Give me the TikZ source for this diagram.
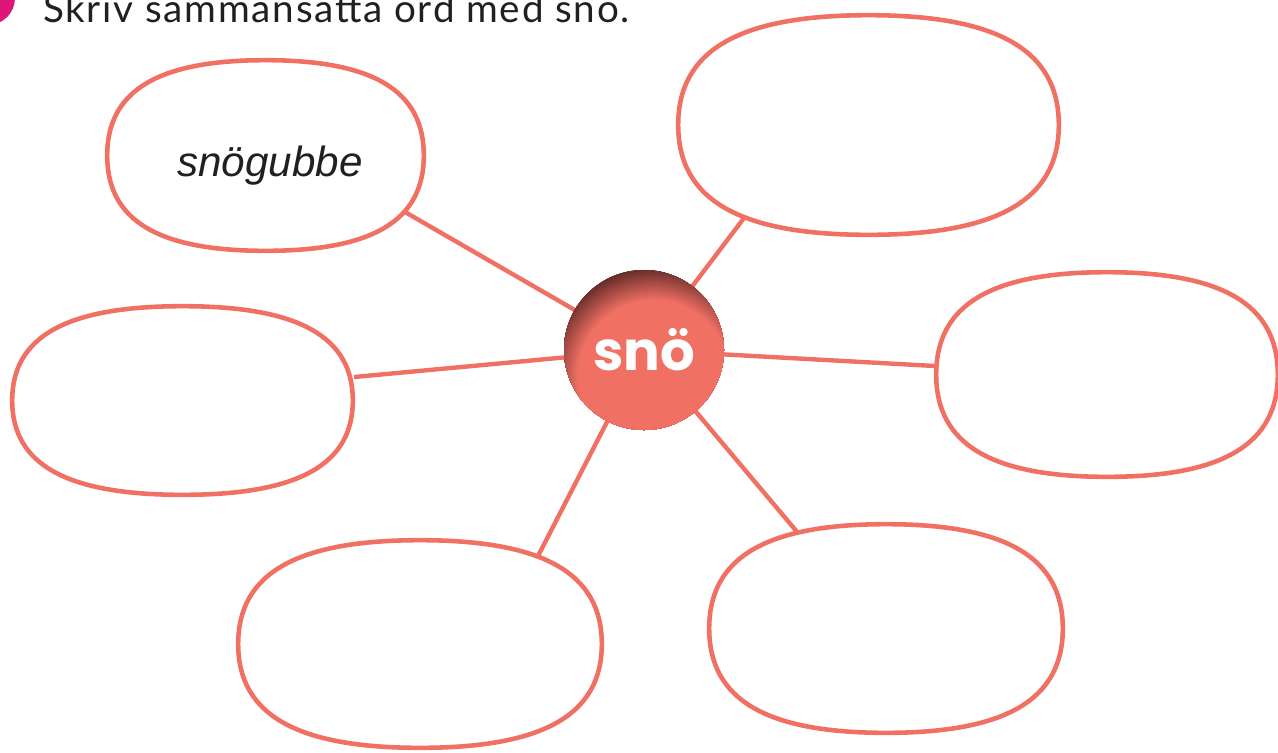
\documentclass[tikz,border=0pt]{standalone}
\usepackage{fontspec}
\setmainfont{Lato}
\newfontfamily\snofont{Poppins}
\newfontfamily\handfont{Liberation Sans}
\usetikzlibrary{calc,backgrounds}

\definecolor{saumon}{RGB}{240,112,100}
\definecolor{brunfonce}{RGB}{84,36,34}
\definecolor{rosevif}{RGB}{222,22,122}
\definecolor{encre}{RGB}{35,31,32}

% contour arrondi autour d'une case
\newcommand{\bord}[1]{%
  \filldraw[bulle] (#1.east)
    .. controls ($(#1.east)!0.68!(#1.north east)$) and ($(#1.north)!0.68!(#1.north east)$) .. (#1.north)
    .. controls ($(#1.north)!0.68!(#1.north west)$) and ($(#1.west)!0.68!(#1.north west)$) .. (#1.west)
    .. controls ($(#1.west)!0.68!(#1.south west)$) and ($(#1.south)!0.68!(#1.south west)$) .. (#1.south)
    .. controls ($(#1.south)!0.68!(#1.south east)$) and ($(#1.east)!0.68!(#1.south east)$) .. cycle;}

\begin{document}
\begin{tikzpicture}[x=0.02cm,y=-0.02cm,
    bulle/.style={draw=saumon, line width=2.6pt, fill=white},
    lien/.style={draw=saumon, line width=2.5pt},
    case/.style={rectangle, inner sep=0pt}]
  \useasboundingbox (0,0) rectangle (1278,752);

  \fill[rosevif] (-12,-2) circle (27);
  \node[anchor=base west, text=encre, font=\addfontfeatures{LetterSpace=4.5}\fontsize{22pt}{26pt}\selectfont] (titre) at (37,22) {Skriv sammansatta ord med snö.};

  \node[circle, minimum size=3.2cm, fill=saumon] (sno) at (644,350) {};
  % ombre en haut a gauche
  \begin{scope}
    \clip (sno.center) circle (80);
    \foreach \r in {112,111,...,76} {
      \pgfmathsetmacro\k{(112-\r)/36*100}
      \fill[saumon!\k!brunfonce] ($(sno.center)+(10,26)$) circle (\r);
    }
  \end{scope}
  \node[text=white, font=\snofont\bfseries\fontsize{31pt}{36pt}\selectfont] (lettres) at (sno.center) {snö};

  \node[case, minimum width=6.32cm, minimum height=3.80cm] (b1) at (265.5,155.5) {};
  \node[case, minimum width=7.60cm, minimum height=4.38cm] (b2) at (868.5,125) {};
  \node[case, minimum width=6.82cm, minimum height=4.08cm] (b3) at (1107,374.5) {};
  \node[case, minimum width=6.80cm, minimum height=3.76cm] (b4) at (182.5,400.5) {};
  \node[case, minimum width=7.26cm, minimum height=4.14cm] (b5) at (420,644) {};
  \node[case, minimum width=7.06cm, minimum height=4.16cm] (b6) at (886,628.5) {};

  \coordinate (e1) at (405,212);
  \coordinate (e2) at (744,218);
  \coordinate (e3) at (935,366);
  \coordinate (e4) at (354,377);
  \coordinate (e5) at (538,556);
  \coordinate (e6) at (798,533);

  \begin{pgfonlayer}{background}
    \foreach \i in {1,...,6}
      \draw[lien] (sno.center) -- (e\i);
  \end{pgfonlayer}

  \foreach \i in {1,...,6}
    \bord{b\i};

  \node[anchor=base, text=encre, font=\handfont\itshape\fontsize{24pt}{28pt}\selectfont] (mot) at (270,176) {snögubbe};
\end{tikzpicture}
\end{document}
